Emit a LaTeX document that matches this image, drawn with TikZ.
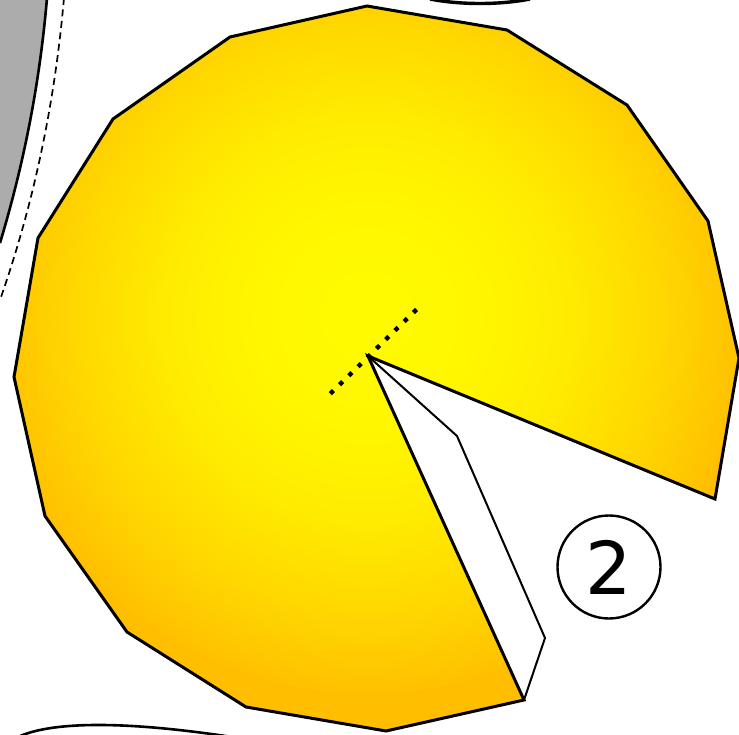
\documentclass[tikz,border=0pt]{standalone}
\usepackage{fontspec}
\newfontfamily\digitfont{DejaVu Sans}
\usetikzlibrary{positioning}
\definecolor{cheeseIn}{RGB}{255,250,0}
\definecolor{cheeseOut}{RGB}{255,190,0}

\begin{document}
\begin{tikzpicture}[x=1pt, y=-1pt,
    rim/.style={draw=black, line width=3pt},
    slit/.style={draw=black, line width=2pt},
    guide/.style={draw=black, line width=1.7pt, dash pattern=on 7pt off 4.5pt},
    dotline/.style={draw=black, line width=4.4pt, dash pattern=on 4.4pt off 8.5pt},
    rimcurve/.style={draw=black, line width=2.6pt},
    tag/.style={circle, draw, line width=2.4pt, minimum size=103pt, inner sep=0pt,
                font=\digitfont\fontsize{73}{73}\selectfont}
  ]
  \useasboundingbox (0,0) rectangle (739,735);

  % grey part and its guide, top left
  \fill[gray!65] (-2,-2) -- (47,-2) .. controls (40,80) and (25,160) .. (0,243) -- (-2,243) -- cycle;
  \draw[rimcurve] (47,-2) .. controls (40,80) and (25,160) .. (0,243);
  \draw[guide] (64,-2) .. controls (55,100) and (35,200) .. (0,300);

  % cut polygon
  \coordinate (pivot) at (368,356);
  \coordinate (tip) at (524,700);
  \coordinate (glow) at (368,318);
  \begin{scope}
    \clip (pivot) -- (715,499) -- (739,358) -- (708,221) -- (627,105) -- (507,30)
      -- (367,6) -- (230,37) -- (113,119) -- (38,238) -- (14,377) -- (45,516)
      -- (127,632) -- (246,707) -- (386,731) -- (tip) -- cycle;
    \foreach \i in {0,...,70} {
      \pgfmathsetmacro\rad{450-6.2*\i}
      \pgfmathsetmacro\mix{min(100,100*((\rad-15)/370)^2)}
      \fill[cheeseOut!\mix!cheeseIn] (glow) circle (\rad pt);
    }
  \end{scope}
  \draw[rim] (pivot) -- (715,499) -- (739,358) -- (708,221) -- (627,105) -- (507,30)
    -- (367,6) -- (230,37) -- (113,119) -- (38,238) -- (14,377) -- (45,516)
    -- (127,632) -- (246,707) -- (386,731) -- (tip) -- cycle;

  % slit
  \draw[slit] (pivot) -- (457,436) -- (545,638) -- (tip);

  % axis through the pivot
  \coordinate (axA) at (330.3,393.7);
  \coordinate (axB) at (418,308);
  \draw[dotline] (axA) -- (axB);

  \node[tag] (two) at (609,567) {2};

  % neighbour outlines
  \draw[rimcurve, line width=3.4pt] (430,-1) .. controls (460,5) and (500,5) .. (530,-1);
  \draw[rimcurve] (18,737) .. controls (50,722) and (120,720) .. (232,737);
\end{tikzpicture}
\end{document}
